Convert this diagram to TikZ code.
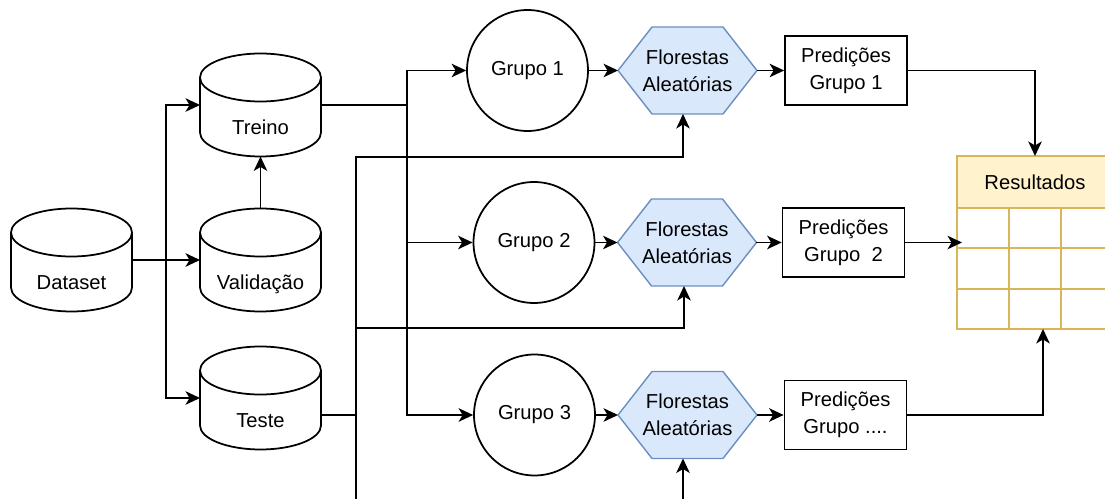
\documentclass[tikz,border=0pt]{standalone}
\usepackage{fontspec}
\setmainfont{Liberation Sans}
\usetikzlibrary{arrows.meta,calc}
\definecolor{HexBlue}{RGB}{218,232,252}
\definecolor{HexEdge}{RGB}{108,142,191}
\definecolor{TabYellow}{RGB}{255,242,204}
\definecolor{TabEdge}{RGB}{214,182,86}
\tikzset{
  linha/.style={line width=1pt},
  dbbox/.style={minimum width=24.2mm,minimum height=20.6mm,text height=11.8mm,
    text depth=0pt,inner sep=0pt,outer sep=0pt},
  grupo/.style={draw,linha,circle,minimum size=24.2mm,inner sep=0pt},
  hexbox/.style={minimum width=27.8mm,minimum height=17.4mm,inner sep=0pt,
    outer sep=0pt,align=center},
  predbox/.style={draw,linha,minimum width=24.4mm,minimum height=13.8mm,
    inner sep=0pt,align=center},
  headcell/.style={draw=TabEdge,fill=TabYellow,thick,minimum width=31.2mm,
    minimum height=10.4mm,inner sep=0pt,outer sep=0pt},
  gridcell/.style={draw=TabEdge,thick,minimum width=31.2mm,minimum height=24.2mm,
    inner sep=0pt,outer sep=0pt},
  seta/.style={-{Stealth[length=2.9mm,width=2.7mm,inset=0.8mm]},linha}
}
\newcommand{\dbcyl}[4]{%
  \node[dbbox] (#1) at (#2,#3) {#4};
  \draw[linha] ([yshift=-4.8mm]#1.north) ellipse[x radius=12.1mm,y radius=4.8mm];
  \draw[linha] ([yshift=-4.8mm]#1.north west)--([yshift=4.8mm]#1.south west)
    arc[start angle=180,end angle=360,x radius=12.1mm,y radius=4.8mm]
    --([yshift=-4.8mm]#1.north east);}
\newcommand{\rfhex}[3]{%
  \filldraw[HexEdge,fill=HexBlue,thick] (#2,#3) ++(-13.9mm,0) --++(6.8mm,8.7mm)
    --++(14.2mm,0) --++(6.8mm,-8.7mm) --++(-6.8mm,-8.7mm) --++(-14.2mm,0) --cycle;
  \node[hexbox] (#1) at (#2,#3) {Florestas\\Aleatórias};}

\begin{document}
\begin{tikzpicture}[x=0.02cm,y=-0.02cm,font=\fontsize{11.5}{15.4}\selectfont]
  \clip (0,0) rectangle (1105,499);
  % bases de dados
  \dbcyl{dataset}{71.5}{260}{Dataset}
  \dbcyl{treino}{260.5}{105}{Treino}
  \dbcyl{validacao}{260.5}{260}{Validação}
  \dbcyl{teste}{260.5}{398}{Teste}
  % grupos, florestas e predicoes
  \node[grupo] (grupo1) at (527.5,70.5) {Grupo 1};
  \node[grupo] (grupo2) at (534,242.5) {Grupo 2};
  \node[grupo] (grupo3) at (534.5,415) {Grupo 3};
  \rfhex{rf1}{687.5}{70.5}
  \rfhex{rf2}{687}{242.5}
  \rfhex{rf3}{687.5}{415}
  \node[predbox] (pred1) at (846,70.5) {Predições\\Grupo 1};
  \node[predbox] (pred2) at (843.5,242.5) {Predições\\Grupo\ \ 2};
  \node[predbox] (pred3) at (845.5,415) {Predições\\Grupo ....};
  % tabela de resultados
  \node[headcell] (resultados) at (1035,182) {Resultados};
  \node[gridcell,anchor=north] (resgrid) at (resultados.south) {};
  \draw[TabEdge,thick] ([yshift=-8mm]resgrid.north west)--([yshift=-8mm]resgrid.north east)
    ([yshift=-16.2mm]resgrid.north west)--([yshift=-16.2mm]resgrid.north east)
    ([xshift=10.4mm]resgrid.north west)--([xshift=10.4mm]resgrid.south west)
    ([xshift=20.8mm]resgrid.north west)--([xshift=20.8mm]resgrid.south west);
  % ligacoes
  \coordinate (split) at (166,260);
  \draw[seta] (dataset.east)--(validacao.west);
  \draw[seta] (split)|-(treino.west);
  \draw[seta] (split)|-(teste.west);
  \draw[seta] (validacao.north)--(treino.south);
  \coordinate (treinobus) at (407,105);
  \draw[linha] (treino.east)--(treinobus);
  \draw[seta] (treinobus)|-(grupo1.west);
  \draw[seta] (treinobus)|-(grupo2.west);
  \draw[seta] (treinobus)|-(grupo3.west);
  \coordinate (testebus) at (356,415);
  \coordinate (bus1) at (356,157);
  \coordinate (bus2) at (356,328);
  \coordinate (bus3) at (356,530);
  \draw[linha] ([yshift=-3.4mm]teste.east)--(testebus);
  \draw[seta] (testebus)--(bus1)-|([xshift=-0.9mm]rf1.south);
  \draw[seta] (testebus)--(bus2)-|([xshift=-0.6mm]rf2.south);
  \draw[seta] (testebus)--(bus3)-|([xshift=-0.9mm]rf3.south);
  \draw[seta] (grupo1.east)--(rf1.west);
  \draw[seta] (grupo2.east)--(rf2.west);
  \draw[seta] (grupo3.east)--(rf3.west);
  \draw[seta] (rf1.east)--(pred1.west);
  \draw[seta] (rf2.east)--(pred2.west);
  \draw[seta] (rf3.east)--(pred3.west);
  \draw[seta] (pred1.east)-|(resultados.north);
  \draw[seta] (pred2.east)--([xshift=1mm]resgrid.west|-pred2.east);
  \draw[seta] (pred3.east)-|([xshift=1.6mm]resgrid.south);
\end{tikzpicture}
\end{document}
